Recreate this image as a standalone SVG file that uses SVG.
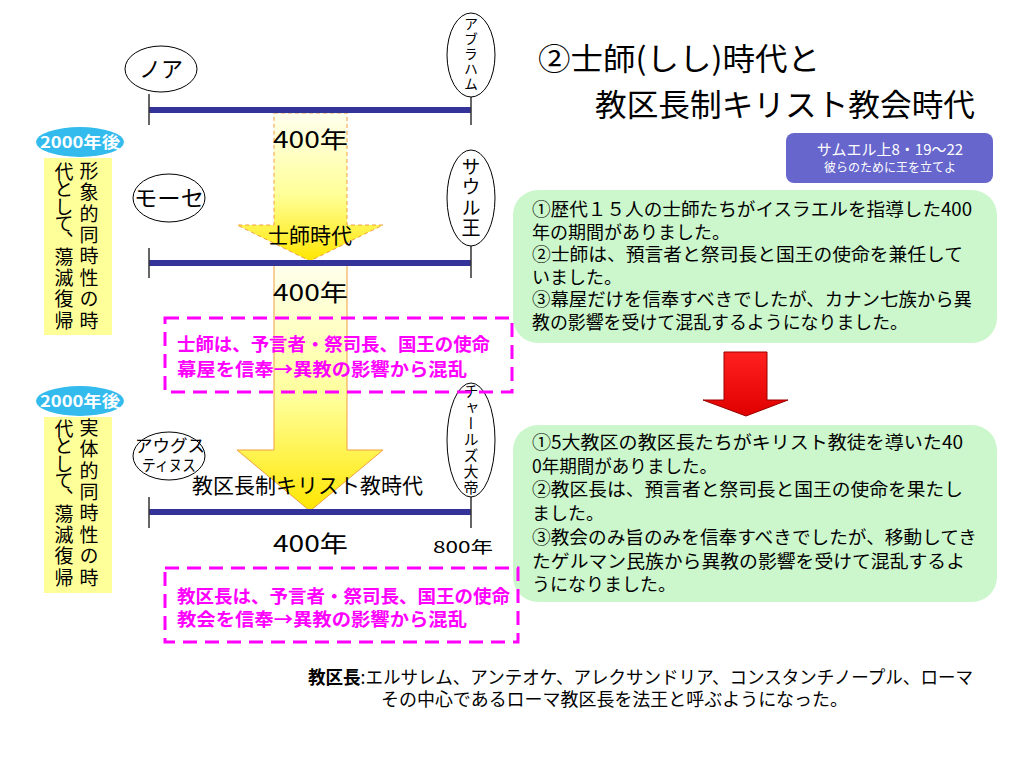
<svg xmlns="http://www.w3.org/2000/svg" width="1024" height="768" viewBox="0 0 1024 768">
<defs>
<linearGradient id="yel" x1="0" y1="0" x2="0" y2="1">
<stop offset="0" stop-color="#ffffee"/>
<stop offset="0.55" stop-color="#ffff99"/>
<stop offset="1" stop-color="#ffe600"/>
</linearGradient>
<linearGradient id="red" x1="0" y1="0" x2="0" y2="1">
<stop offset="0" stop-color="#ff2020"/>
<stop offset="1" stop-color="#e00000"/>
</linearGradient>
</defs>
<style>
text{font-family:"Noto Sans CJK JP","Noto Sans CJK SC",sans-serif;fill:#000}
.tl{stroke:#333399;stroke-width:6}
.tick{stroke:#333;stroke-width:1.5}
.ell{fill:#fff;stroke:#000;stroke-width:1}
.vt{writing-mode:vertical-rl;text-orientation:upright}
.pill{fill:#33bbee}
.pilltx{fill:#fff;font-weight:bold;font-size:16px}
.ybox{fill:#ffff99}
.pink{fill:none;stroke:#ff00ff;stroke-width:3;stroke-dasharray:14 8}
.pinktx{fill:#ff00ff;font-weight:bold;font-size:18px}
.green{fill:#ccf7cc}
.gtx{font-size:18px}
.yr{font-size:23px}
.col{font-size:19px}
</style>

<g id="arrows">
<path id="arrow1" d="M274,113 L347,113 L347,225 L383,225 L310,261 L237,225 L274,225 Z" fill="url(#yel)" stroke="#f0a040" stroke-width="1" stroke-dasharray="4 3"/>
<path id="arrow2" d="M274,264 L347,264 L347,450 L383,450 L310,511 L237,450 L274,450 Z" fill="url(#yel)" stroke="#f0a040" stroke-width="1"/>
</g>

<g id="connectors">
<line class="tl" x1="149" y1="110" x2="471" y2="110"/>
<line class="tick" x1="149" y1="94" x2="149" y2="125"/>
<line class="tick" x1="471" y1="97" x2="471" y2="125"/>
<line class="tl" x1="149" y1="263" x2="471" y2="263"/>
<line class="tick" x1="149" y1="248" x2="149" y2="278"/>
<line class="tick" x1="471" y1="246" x2="471" y2="278"/>
<line class="tl" x1="149" y1="512" x2="471" y2="512"/>
<line class="tick" x1="149" y1="497" x2="149" y2="528"/>
<line class="tick" x1="471" y1="497" x2="471" y2="528"/>
</g>

<g id="labels-timeline">
<text class="yr" x="273" y="148" textLength="75" lengthAdjust="spacingAndGlyphs">400年</text>
<text x="310" y="243" font-size="21" text-anchor="middle">士師時代</text>
<text class="yr" x="273" y="301" textLength="75" lengthAdjust="spacingAndGlyphs">400年</text>
<text x="192" y="493" font-size="21" textLength="231" lengthAdjust="spacingAndGlyphs">教区長制キリスト教時代</text>
<text class="yr" x="273" y="552" textLength="75" lengthAdjust="spacingAndGlyphs">400年</text>
<text x="433" y="553" font-size="16" textLength="60" lengthAdjust="spacingAndGlyphs">800年</text>
</g>

<g id="node-noah">
<ellipse class="ell" cx="161" cy="69" rx="36" ry="23"/>
<text x="161" y="77" font-size="22" text-anchor="middle">ノア</text>
</g>
<g id="node-abraham">
<ellipse class="ell" cx="471" cy="55" rx="24" ry="42"/>
<text class="vt" x="471" y="17" font-size="14" letter-spacing="1">アブラハム</text>
</g>
<g id="node-moses">
<ellipse class="ell" cx="169" cy="198" rx="36" ry="24"/>
<text x="169" y="206" font-size="22" text-anchor="middle" textLength="70" lengthAdjust="spacingAndGlyphs">モーセ</text>
</g>
<g id="node-saul">
<ellipse class="ell" cx="471" cy="198" rx="24" ry="48"/>
<text class="vt" x="471" y="157" font-size="19" letter-spacing="1.5">サウル王</text>
</g>
<g id="node-augustinus">
<ellipse class="ell" cx="169" cy="456" rx="36" ry="24"/>
<text x="170" y="452" font-size="17" text-anchor="middle" textLength="70" lengthAdjust="spacingAndGlyphs">アウグス</text>
<text x="169" y="471" font-size="16" text-anchor="middle" textLength="54" lengthAdjust="spacingAndGlyphs">ティヌス</text>
</g>
<g id="node-charles">
<ellipse class="ell" cx="471" cy="440" rx="24" ry="57"/>
<text class="vt" x="471" y="384" font-size="15" letter-spacing="1">チャールズ大帝</text>
</g>

<g id="side1">
<rect class="ybox" x="44" y="158" width="68" height="177"/>
<ellipse class="pill" cx="80" cy="142" rx="44" ry="15"/>
<text class="pilltx" x="80" y="148" text-anchor="middle" textLength="80" lengthAdjust="spacingAndGlyphs">2000年後</text>
<text class="vt col" x="89" y="161" letter-spacing="2.4">形象的同時性の時</text>
<text class="vt col" x="64" y="162" letter-spacing="-1.5">代として<tspan y="231" letter-spacing="0">、</tspan><tspan y="247" letter-spacing="2.3">蕩滅復帰</tspan></text>
</g>
<g id="side2">
<rect class="ybox" x="44" y="417" width="68" height="176"/>
<ellipse class="pill" cx="80" cy="401" rx="44" ry="15"/>
<text class="pilltx" x="80" y="407" text-anchor="middle" textLength="80" lengthAdjust="spacingAndGlyphs">2000年後</text>
<text class="vt col" x="89" y="418" letter-spacing="2.4">実体的同時性の時</text>
<text class="vt col" x="64" y="419" letter-spacing="-1.5">代として<tspan y="488" letter-spacing="0">、</tspan><tspan y="504" letter-spacing="2.3">蕩滅復帰</tspan></text>
</g>

<g id="title">
<text x="538" y="70" font-size="31" textLength="282" lengthAdjust="spacingAndGlyphs">②士師(しし)時代と</text>
<text x="595" y="116" font-size="31" textLength="380" lengthAdjust="spacingAndGlyphs">教区長制キリスト教会時代</text>
</g>

<g id="verse">
<rect x="786" y="133" width="207" height="50" rx="8" fill="#6666cc"/>
<text x="890" y="155" font-size="15" text-anchor="middle" style="fill:#fff">サムエル上8・19～22</text>
<text x="890" y="172" font-size="12" text-anchor="middle" style="fill:#fff">彼らのために王を立てよ</text>
</g>

<g id="box-judges">
<rect class="green" x="513" y="190" width="484" height="153" rx="25"/>
<text class="gtx" x="532" y="216" textLength="440" lengthAdjust="spacingAndGlyphs">①歴代１５人の士師たちがイスラエルを指導した400</text>
<text class="gtx" x="532" y="239">年の期間がありました。</text>
<text class="gtx" x="532" y="261" textLength="431" lengthAdjust="spacingAndGlyphs">②士師は、預言者と祭司長と国王の使命を兼任して</text>
<text class="gtx" x="532" y="284">いました。</text>
<text class="gtx" x="532" y="306" textLength="440" lengthAdjust="spacingAndGlyphs">③幕屋だけを信奉すべきでしたが、カナン七族から異</text>
<text class="gtx" x="532" y="329" textLength="376" lengthAdjust="spacingAndGlyphs">教の影響を受けて混乱するようになりました。</text>
</g>

<g id="red-arrow">
<path d="M724,352 L767,352 L767,400 L788,400 L746,416 L703,400 L724,400 Z" fill="url(#red)" stroke="#990000" stroke-width="1"/>
</g>

<g id="box-church">
<rect class="green" x="513" y="425" width="484" height="177" rx="25"/>
<text class="gtx" x="532" y="449" textLength="431" lengthAdjust="spacingAndGlyphs">①5大教区の教区長たちがキリスト教徒を導いた40</text>
<text class="gtx" x="532" y="473" textLength="185" lengthAdjust="spacingAndGlyphs">0年期間がありました。</text>
<text class="gtx" x="532" y="496" textLength="431" lengthAdjust="spacingAndGlyphs">②教区長は、預言者と祭司長と国王の使命を果たし</text>
<text class="gtx" x="532" y="520">ました。</text>
<text class="gtx" x="532" y="544" textLength="445" lengthAdjust="spacingAndGlyphs">③教会のみ旨のみを信奉すべきでしたが、移動してき</text>
<text class="gtx" x="532" y="568" textLength="433" lengthAdjust="spacingAndGlyphs">たゲルマン民族から異教の影響を受けて混乱するよ</text>
<text class="gtx" x="532" y="591">うになりました。</text>
</g>

<g id="note-judges">
<rect class="pink" x="165" y="318" width="347" height="74"/>
<text class="pinktx" x="177" y="351" textLength="313" lengthAdjust="spacingAndGlyphs">士師は、予言者・祭司長、国王の使命</text>
<text class="pinktx" x="177" y="376" textLength="290" lengthAdjust="spacingAndGlyphs">幕屋を信奉→異教の影響から混乱</text>
</g>
<g id="note-church">
<rect class="pink" x="165" y="568" width="353" height="74"/>
<text class="pinktx" x="177" y="603" textLength="333" lengthAdjust="spacingAndGlyphs">教区長は、予言者・祭司長、国王の使命</text>
<text class="pinktx" x="177" y="626" textLength="290" lengthAdjust="spacingAndGlyphs">教会を信奉→異教の影響から混乱</text>
</g>

<g id="footnote">
<text x="308" y="684" font-size="18" textLength="665" lengthAdjust="spacingAndGlyphs"><tspan font-weight="bold">教区長</tspan>:エルサレム、アンテオケ、アレクサンドリア、コンスタンチノープル、ローマ</text>
<text x="381" y="706" font-size="18" textLength="467" lengthAdjust="spacingAndGlyphs">その中心であるローマ教区長を法王と呼ぶようになった。</text>
</g>
</svg>
